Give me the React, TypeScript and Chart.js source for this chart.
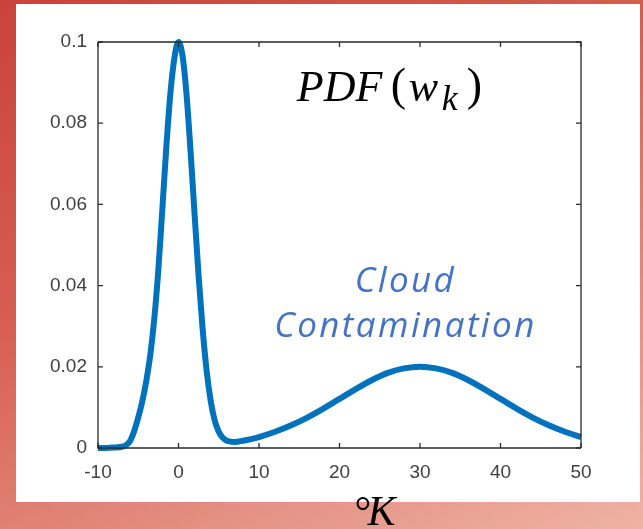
import React, { useEffect, useRef } from "react";
import { Chart, registerables } from "chart.js";

Chart.register(...registerables);

// Temperature (°K) sample positions
const xValues = [
  -10, -9, -8, -7, -6.5, -6, -5.5, -5, -4.5, -4, -3.5, -3, -2.5, -2, -1.5, -1, -0.5, 0,
  0.5, 1, 1.5, 2, 2.5, 3, 3.5, 4, 4.5, 5, 5.5, 6, 7, 8, 9, 10, 12, 14, 16, 18, 20,
  22, 24, 26, 28, 30, 32, 34, 36, 38, 40, 42, 44, 46, 48, 50,
];
// PDF(w_k) values read at those positions
const pdfValues = [
  0, 0, 0.0001, 0.0003, 0.0007, 0.0018, 0.0042, 0.0075, 0.0115, 0.0165, 0.023, 0.032,
  0.044, 0.059, 0.0745, 0.0875, 0.0962, 0.1, 0.0966, 0.087, 0.073, 0.0575, 0.0423,
  0.0293, 0.0189, 0.0116, 0.0068, 0.004, 0.0025, 0.0018, 0.0015, 0.0018, 0.0022,
  0.0027, 0.004, 0.0056, 0.0075, 0.0097, 0.0121, 0.0145, 0.0167, 0.0185, 0.0196,
  0.02, 0.0196, 0.0185, 0.0167, 0.0145, 0.0121, 0.0097, 0.0075, 0.0056, 0.004, 0.0027,
];
const xTickLabels = ["-10", "0", "10", "20", "30", "40", "50"];
const yTickLabels = ["0", "0.02", "0.04", "0.06", "0.08", "0.1"];
const titleParts = { main: "PDF", open: "(", w: "w", sub: "k", close: ")" };
const cloudLines = ["Cloud", "Contamination"];
const unitDegree = "°";
const unitK = "K";

const AXIS_COLOR = "#2b2b2b";
const TICK_TEXT = "#404040";

const boxPlugin = {
  id: "matlabBox",
  afterDraw(chart: any) {
    const { ctx, chartArea, scales } = chart;
    const { left, right, top, bottom } = chartArea;
    const xs = scales.x;
    const ys = scales.y;
    ctx.save();
    ctx.strokeStyle = AXIS_COLOR;
    ctx.lineWidth = 1.3;
    ctx.beginPath();
    ctx.moveTo(left, top);
    ctx.lineTo(right, top);
    ctx.lineTo(right, bottom);
    ctx.moveTo(left, top);
    ctx.lineTo(left, bottom);
    ctx.lineTo(right, bottom);
    ctx.stroke();
    const tl = 5;
    ctx.beginPath();
    xs.ticks.forEach((t: any) => {
      const px = xs.getPixelForValue(t.value);
      ctx.moveTo(px, bottom);
      ctx.lineTo(px, bottom - tl);
      ctx.moveTo(px, top);
      ctx.lineTo(px, top + tl);
    });
    ys.ticks.forEach((t: any) => {
      const py = ys.getPixelForValue(t.value);
      ctx.moveTo(left, py);
      ctx.lineTo(left + tl, py);
      ctx.moveTo(right, py);
      ctx.lineTo(right - tl, py);
    });
    ctx.stroke();

    // Title PDF(w_k)
    const tx = xs.getPixelForValue(14.7);
    const ty = ys.getPixelForValue(0.0855);
    ctx.fillStyle = "#000";
    ctx.textBaseline = "alphabetic";
    ctx.textAlign = "left";
    ctx.font = 'italic 44px "Liberation Serif"';
    ctx.fillText(titleParts.main, tx, ty);
    ctx.font = '46px "Liberation Serif"';
    ctx.fillText(titleParts.open, tx + 94, ty - 1);
    ctx.font = 'italic 44px "Liberation Serif"';
    ctx.fillText(titleParts.w, tx + 112, ty);
    ctx.font = 'italic 36px "Liberation Serif"';
    ctx.fillText(titleParts.sub, tx + 145, ty + 9.5);
    ctx.font = '46px "Liberation Serif"';
    ctx.fillText(titleParts.close, tx + 170, ty - 1);

    // Cloud Contamination
    const cx = xs.getPixelForValue(28.07) + 1;
    ctx.fillStyle = "#4472C4";
    ctx.textAlign = "center";
    ctx.font = 'italic 35px "Open Sans"';
    try { (ctx as any).letterSpacing = "2.4px"; } catch (e) {}
    ctx.fillText(cloudLines[0], cx, ys.getPixelForValue(0.0385));
    ctx.fillText(cloudLines[1], cx, ys.getPixelForValue(0.0274));
    try { (ctx as any).letterSpacing = "0px"; } catch (e) {}

    // Unit label
    const ux = xs.getPixelForValue(21.86);
    const uy = bottom + 77;
    ctx.fillStyle = "#000";
    ctx.textAlign = "left";
    ctx.font = '42px "Liberation Serif"';
    ctx.fillText(unitDegree, ux, uy);
    ctx.font = 'italic 42px "Liberation Serif"';
    ctx.fillText(unitK, ux + 13, uy);
    ctx.restore();
  },
};

export default function App() {
  const ref = useRef<HTMLCanvasElement | null>(null);
  useEffect(() => {
    if (!ref.current) return;
    const data = xValues.map((x, i) => ({ x, y: pdfValues[i] }));
    const chart = new Chart(ref.current, {
      type: "line",
      data: {
        datasets: [
          {
            data,
            borderColor: "#0072BD",
            borderWidth: 6,
            pointRadius: 0,
            cubicInterpolationMode: "monotone",
            fill: false,
            clip: false as any,
          },
        ],
      },
      options: {
        animation: false,
        responsive: false,
        maintainAspectRatio: false,
        events: [],
        layout: { padding: { left: 0, right: 62, top: 42, bottom: 0 } },
        plugins: { legend: { display: false }, tooltip: { enabled: false } },
        scales: {
          x: {
            type: "linear",
            min: -10,
            max: 50,
            afterFit: (s: any) => { s.height = 81; },
            grid: { display: false, drawTicks: false },
            border: { display: false },
            ticks: {
              stepSize: 10,
              padding: 13,
              color: TICK_TEXT,
              font: { family: '"Liberation Sans"', size: 19 },
              callback: (_v: any, i: number) => xTickLabels[i],
              maxRotation: 0,
            },
          },
          y: {
            min: 0,
            max: 0.1,
            afterFit: (s: any) => { s.width = 98; },
            grid: { display: false, drawTicks: false },
            border: { display: false },
            ticks: {
              stepSize: 0.02,
              padding: 11,
              color: TICK_TEXT,
              font: { family: '"Liberation Sans"', size: 19 },
              callback: (_v: any, i: number) => yTickLabels[i],
            },
          },
        },
      },
      plugins: [boxPlugin],
    });
    return () => chart.destroy();
  }, []);

  return (
    <div
      style={{
        position: "fixed",
        left: 0,
        top: 0,
        width: 643,
        height: 529,
        background: "linear-gradient(155deg, #c9433a 0%, #d65f52 40%, #eeb3a4 100%)",
        overflow: "hidden",
      }}
    >
      <div
        style={{
          position: "absolute",
          left: 16,
          top: 4,
          width: 624,
          height: 498,
          background: "#fff",
        }}
      />
      <canvas
        ref={ref}
        width={643}
        height={529}
        style={{ position: "absolute", left: 0, top: 0, width: 643, height: 529 }}
      />
    </div>
  );
}
